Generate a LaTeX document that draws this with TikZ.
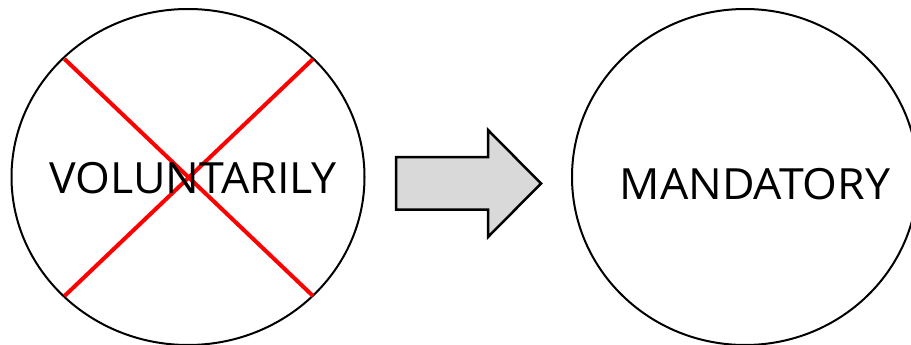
\documentclass[tikz,border=0pt]{standalone}
\usepackage{fontspec}
\setmainfont{Open Sans}
\usetikzlibrary{shapes.geometric}
\definecolor{arrowgray}{HTML}{D9D9D9}
\tikzset{
  oval/.style={draw=black, line width=2pt, ellipse, inner sep=0pt},
  label text/.style={font=\fontsize{43}{43}\selectfont, anchor=base, inner sep=0pt, xscale=1.04},
  cross/.style={draw=red, line width=4pt},
  bigarrow/.style={draw=black, fill=arrowgray, line width=2.5pt, line join=miter}
}
\begin{document}
\begin{tikzpicture}[x=1pt,y=-1pt]
\useasboundingbox (0,0) rectangle (911,345);
\clip (0,0) rectangle (911,345);
\node[oval, minimum width=353pt, minimum height=336pt] (left) at (188,177) {};
\node[oval, minimum width=346pt, minimum height=336pt] (right) at (745,177) {};
\coordinate (c1) at (64.5,59);
\coordinate (c2) at (313,296);
\coordinate (c3) at (64.5,296);
\coordinate (c4) at (313,59);
\draw[cross] (c1) -- (c2);
\draw[cross] (c3) -- (c4);
\node[label text] (vol) at (193,193) {VOLUNTARILY};
\node[label text] (man) at (755,199) {MANDATORY};
\draw[bigarrow] (396,157) -- (488,157) -- (488,130) -- (541,183.5) -- (488,237) -- (488,209.5) -- (396,209.5) -- cycle;
\end{tikzpicture}
\end{document}
